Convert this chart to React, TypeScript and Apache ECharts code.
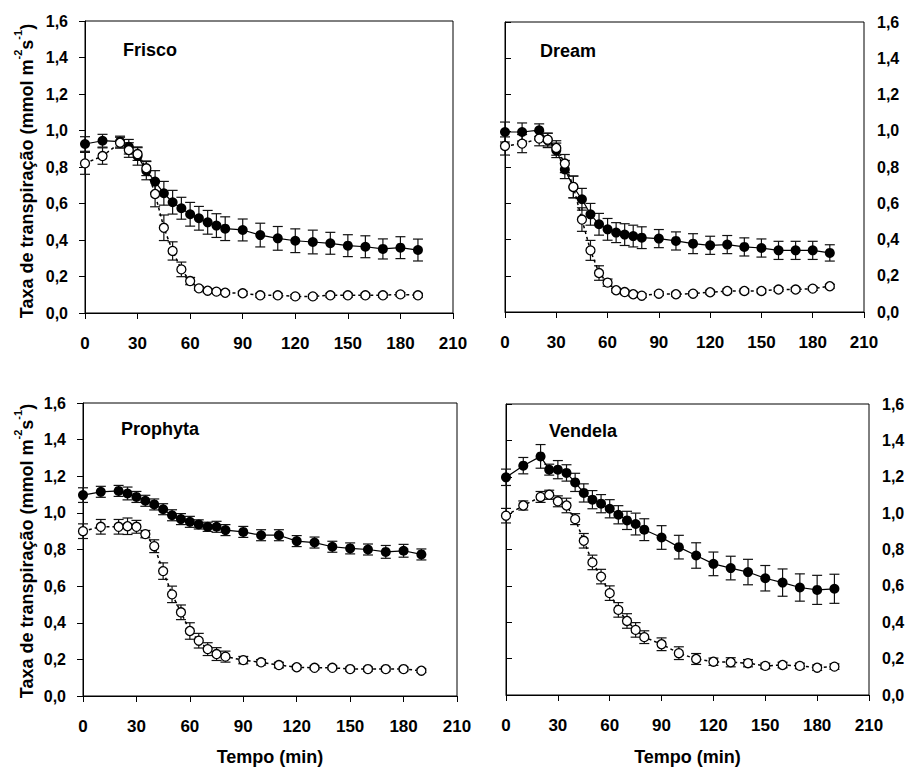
import React, { useEffect, useRef } from "react";
import * as echarts from "echarts";

const TIME = [0, 10, 20, 25, 30, 35, 40, 45, 50, 55, 60, 65, 70, 75, 80, 90, 100, 110, 120, 130, 140, 150, 160, 170, 180, 190];
const X_TICKS = [0, 30, 60, 90, 120, 150, 180, 210];
const Y_TICKS = [0, 0.2, 0.4, 0.6, 0.8, 1.0, 1.2, 1.4, 1.6];

const FRISCO_FILLED = [0.926, 0.944, 0.939, 0.911, 0.86, 0.78, 0.72, 0.656, 0.607, 0.574, 0.541, 0.519, 0.497, 0.479, 0.462, 0.455, 0.427, 0.409, 0.396, 0.389, 0.382, 0.369, 0.363, 0.351, 0.358, 0.345];
const FRISCO_FILLED_ERR = [0.04, 0.035, 0.03, 0.04, 0.05, 0.05, 0.06, 0.065, 0.065, 0.06, 0.065, 0.065, 0.065, 0.065, 0.065, 0.06, 0.065, 0.065, 0.065, 0.065, 0.06, 0.06, 0.06, 0.055, 0.06, 0.06];
const FRISCO_OPEN = [0.82, 0.86, 0.933, 0.893, 0.871, 0.793, 0.652, 0.467, 0.34, 0.239, 0.175, 0.135, 0.122, 0.117, 0.111, 0.108, 0.097, 0.097, 0.091, 0.091, 0.097, 0.097, 0.097, 0.097, 0.102, 0.097];
const FRISCO_OPEN_ERR = [0.06, 0.045, 0.03, 0.04, 0.035, 0.04, 0.07, 0.07, 0.05, 0.04, 0.02, 0.01, 0.01, 0.01, 0.01, 0.01, 0.01, 0.01, 0.01, 0.01, 0.01, 0.01, 0.01, 0.01, 0.01, 0.01];

const DREAM_FILLED = [0.993, 0.993, 1.003, 0.947, 0.892, 0.786, 0.69, 0.622, 0.539, 0.484, 0.456, 0.438, 0.427, 0.419, 0.41, 0.405, 0.392, 0.377, 0.368, 0.372, 0.359, 0.353, 0.34, 0.34, 0.34, 0.326];
const DREAM_FILLED_ERR = [0.055, 0.05, 0.035, 0.04, 0.04, 0.05, 0.06, 0.06, 0.06, 0.06, 0.06, 0.055, 0.06, 0.06, 0.06, 0.05, 0.05, 0.055, 0.05, 0.05, 0.05, 0.05, 0.05, 0.05, 0.05, 0.045];
const DREAM_OPEN = [0.916, 0.929, 0.957, 0.951, 0.905, 0.819, 0.69, 0.51, 0.34, 0.215, 0.162, 0.12, 0.11, 0.098, 0.09, 0.101, 0.098, 0.101, 0.109, 0.116, 0.116, 0.116, 0.124, 0.124, 0.129, 0.142];
const DREAM_OPEN_ERR = [0.05, 0.05, 0.04, 0.035, 0.04, 0.05, 0.06, 0.065, 0.055, 0.04, 0.02, 0.01, 0.01, 0.01, 0.01, 0.01, 0.01, 0.01, 0.01, 0.01, 0.01, 0.01, 0.01, 0.01, 0.01, 0.01];

const PROPHYTA_FILLED = [1.097, 1.115, 1.12, 1.106, 1.087, 1.066, 1.046, 1.02, 0.987, 0.966, 0.951, 0.937, 0.924, 0.924, 0.906, 0.896, 0.878, 0.878, 0.846, 0.838, 0.815, 0.806, 0.8, 0.787, 0.793, 0.773];
const PROPHYTA_FILLED_ERR = [0.04, 0.03, 0.03, 0.035, 0.03, 0.03, 0.03, 0.03, 0.03, 0.03, 0.03, 0.025, 0.025, 0.03, 0.03, 0.03, 0.03, 0.03, 0.03, 0.03, 0.03, 0.03, 0.03, 0.035, 0.035, 0.03];
const PROPHYTA_OPEN = [0.9, 0.924, 0.924, 0.927, 0.924, 0.884, 0.818, 0.682, 0.555, 0.457, 0.355, 0.302, 0.256, 0.229, 0.215, 0.196, 0.184, 0.169, 0.157, 0.154, 0.154, 0.147, 0.147, 0.147, 0.147, 0.138];
const PROPHYTA_OPEN_ERR = [0.04, 0.04, 0.04, 0.045, 0.035, 0.02, 0.035, 0.045, 0.045, 0.04, 0.045, 0.04, 0.035, 0.035, 0.03, 0.02, 0.015, 0.015, 0.01, 0.01, 0.01, 0.01, 0.01, 0.01, 0.01, 0.01];

const VENDELA_FILLED = [1.197, 1.261, 1.312, 1.239, 1.239, 1.221, 1.169, 1.111, 1.074, 1.052, 1.024, 0.991, 0.96, 0.94, 0.909, 0.866, 0.813, 0.767, 0.721, 0.698, 0.676, 0.642, 0.618, 0.591, 0.578, 0.584];
const VENDELA_FILLED_ERR = [0.045, 0.045, 0.065, 0.03, 0.05, 0.045, 0.05, 0.05, 0.05, 0.05, 0.05, 0.05, 0.05, 0.06, 0.06, 0.065, 0.065, 0.07, 0.065, 0.065, 0.07, 0.07, 0.075, 0.075, 0.08, 0.08];
const VENDELA_OPEN = [0.986, 1.042, 1.089, 1.101, 1.065, 1.042, 0.967, 0.848, 0.729, 0.651, 0.56, 0.468, 0.407, 0.358, 0.318, 0.279, 0.23, 0.198, 0.183, 0.18, 0.175, 0.16, 0.165, 0.16, 0.15, 0.156];
const VENDELA_OPEN_ERR = [0.04, 0.025, 0.03, 0.025, 0.03, 0.04, 0.03, 0.04, 0.04, 0.04, 0.04, 0.04, 0.04, 0.04, 0.035, 0.035, 0.035, 0.03, 0.02, 0.025, 0.02, 0.015, 0.015, 0.015, 0.015, 0.015];

const PANEL_NAMES = ["Frisco", "Dream", "Prophyta", "Vendela"];
const X_TITLE = "Tempo (min)";

const FONT = "'Liberation Sans', Arial, Helvetica, sans-serif";

const panels = [
  { name: PANEL_NAMES[0], filled: FRISCO_FILLED, filledErr: FRISCO_FILLED_ERR, open: FRISCO_OPEN, openErr: FRISCO_OPEN_ERR },
  { name: PANEL_NAMES[1], filled: DREAM_FILLED, filledErr: DREAM_FILLED_ERR, open: DREAM_OPEN, openErr: DREAM_OPEN_ERR },
  { name: PANEL_NAMES[2], filled: PROPHYTA_FILLED, filledErr: PROPHYTA_FILLED_ERR, open: PROPHYTA_OPEN, openErr: PROPHYTA_OPEN_ERR },
  { name: PANEL_NAMES[3], filled: VENDELA_FILLED, filledErr: VENDELA_FILLED_ERR, open: VENDELA_OPEN, openErr: VENDELA_OPEN_ERR },
];

// layout (pixels)
const GRIDS = [
  { left: 85, top: 21, width: 368, height: 292, right: false, title: [123, 50] },
  { left: 505, top: 22, width: 359, height: 290, right: true, title: [540, 51] },
  { left: 83, top: 403, width: 374, height: 293, right: false, title: [121, 429] },
  { left: 506, top: 404, width: 363, height: 291, right: true, title: [549, 431] },
];

function fmtY(v: number) {
  return v.toFixed(1).replace(".", ",");
}

export default function App() {
  const ref = useRef<HTMLDivElement>(null);

  useEffect(() => {
    if (!ref.current) return;
    const chart = echarts.init(ref.current, null, { renderer: "svg" });

    const grid: any[] = [];
    const xAxis: any[] = [];
    const yAxis: any[] = [];
    const series: any[] = [];
    const graphic: any[] = [];

    const errRender = (params: any, api: any) => {
      const x = api.value(0);
      const lo = api.coord([x, api.value(1)]);
      const hi = api.coord([x, api.value(2)]);
      const w = 5;
      const st = { stroke: "#111", lineWidth: 1.2 };
      return {
        type: "group",
        children: [
          { type: "line", shape: { x1: lo[0], y1: lo[1], x2: hi[0], y2: hi[1] }, style: st },
          { type: "line", shape: { x1: hi[0] - w, y1: hi[1], x2: hi[0] + w, y2: hi[1] }, style: st },
          { type: "line", shape: { x1: lo[0] - w, y1: lo[1], x2: lo[0] + w, y2: lo[1] }, style: st },
        ],
      };
    };

    panels.forEach((p, i) => {
      const g = GRIDS[i];
      grid.push({
        left: g.left,
        top: g.top,
        width: g.width,
        height: g.height,
        show: true,
        borderColor: "#000",
        borderWidth: 1,
        backgroundColor: "transparent",
        containLabel: false,
        outerBoundsMode: "none",
      });
      xAxis.push({
        type: "value",
        gridIndex: i,
        min: X_TICKS[0],
        max: X_TICKS[X_TICKS.length - 1],
        interval: X_TICKS[1] - X_TICKS[0],
        axisLine: { show: true, lineStyle: { color: "#000", width: 1 } },
        axisTick: { show: true, length: 6, lineStyle: { color: "#000" } },
        splitLine: { show: false },
        axisLabel: {
          show: true,
          margin: 22,
          color: "#000",
          fontFamily: FONT,
          fontWeight: "bold",
          fontSize: 17,
          showMinLabel: true,
          showMaxLabel: true,
        },
      });
      yAxis.push({
        type: "value",
        gridIndex: i,
        position: g.right ? "right" : "left",
        min: Y_TICKS[0],
        max: Y_TICKS[Y_TICKS.length - 1],
        interval: 0.2,
        axisLine: { show: true, lineStyle: { color: "#000", width: 1 } },
        axisTick: { show: true, length: 6, lineStyle: { color: "#000" } },
        splitLine: { show: false },
        axisLabel: {
          show: true,
          margin: g.right ? 13 : 17,
          color: "#000",
          fontFamily: FONT,
          fontWeight: "bold",
          fontSize: 16,
          formatter: fmtY,
          showMinLabel: true,
          showMaxLabel: true,
        },
      });

      series.push({
        type: "custom",
        xAxisIndex: i,
        yAxisIndex: i,
        renderItem: errRender,
        encode: { x: 0, y: [1, 2] },
        data: TIME.map((t, k) => [t, p.filled[k] - p.filledErr[k], p.filled[k] + p.filledErr[k]]),
        z: 2,
        silent: true,
      });
      series.push({
        type: "custom",
        xAxisIndex: i,
        yAxisIndex: i,
        renderItem: errRender,
        encode: { x: 0, y: [1, 2] },
        data: TIME.map((t, k) => [t, p.open[k] - p.openErr[k], p.open[k] + p.openErr[k]]),
        z: 2,
        silent: true,
      });
      series.push({
        type: "line",
        xAxisIndex: i,
        yAxisIndex: i,
        data: TIME.map((t, k) => [t, p.filled[k]]),
        symbol: "circle",
        symbolSize: 10,
        showAllSymbol: true,
        itemStyle: { color: "#000", borderColor: "#000", borderWidth: 0 },
        lineStyle: { color: "#000", width: 1.2, type: "solid" },
        z: 3,
        silent: true,
      });
      series.push({
        type: "line",
        xAxisIndex: i,
        yAxisIndex: i,
        data: TIME.map((t, k) => [t, p.open[k]]),
        symbol: "circle",
        symbolSize: 9,
        showAllSymbol: true,
        itemStyle: { color: "#fff", borderColor: "#000", borderWidth: 1.3 },
        lineStyle: { color: "#000", width: 1.5, type: [3, 3] },
        z: 4,
        silent: true,
      });

      graphic.push({
        type: "text",
        x: g.title[0],
        y: g.title[1],
        style: {
          text: p.name,
          fill: "#000",
          font: `bold 18px ${FONT}`,
          align: "left",
          verticalAlign: "middle",
        },
      });
    });

    // y-axis titles (left panels)
    const yTitleCenters = [171, 551];
    yTitleCenters.forEach((cy) => {
      graphic.push({
        type: "text",
        x: 24,
        y: cy,
        rotation: Math.PI / 2,
        style: {
          text: "{n|Taxa de transpiração (mmol m}{s|-2}{n|s}{s|-1}{n|)}",
          rich: {
            n: { fontFamily: FONT, fontWeight: "bold", fontSize: 18, fill: "#000", lineHeight: 24, verticalAlign: "bottom" },
            s: { fontFamily: FONT, fontWeight: "bold", fontSize: 11, fill: "#000", lineHeight: 24, verticalAlign: "top" },
          },
          align: "center",
          verticalAlign: "middle",
        },
      });
    });

    // x-axis titles (bottom panels)
    [GRIDS[2], GRIDS[3]].forEach((g) => {
      graphic.push({
        type: "text",
        x: g.left + g.width / 2,
        y: 757,
        style: {
          text: X_TITLE,
          fill: "#000",
          font: `bold 18px ${FONT}`,
          align: "center",
          verticalAlign: "middle",
        },
      });
    });

    chart.setOption({
      animation: false,
      backgroundColor: "#fff",
      grid,
      xAxis,
      yAxis,
      series,
      graphic,
    });

    return () => chart.dispose();
  }, []);

  return (
    <div
      ref={ref}
      style={{ position: "absolute", left: 0, top: 0, width: 914, height: 767 }}
    />
  );
}
